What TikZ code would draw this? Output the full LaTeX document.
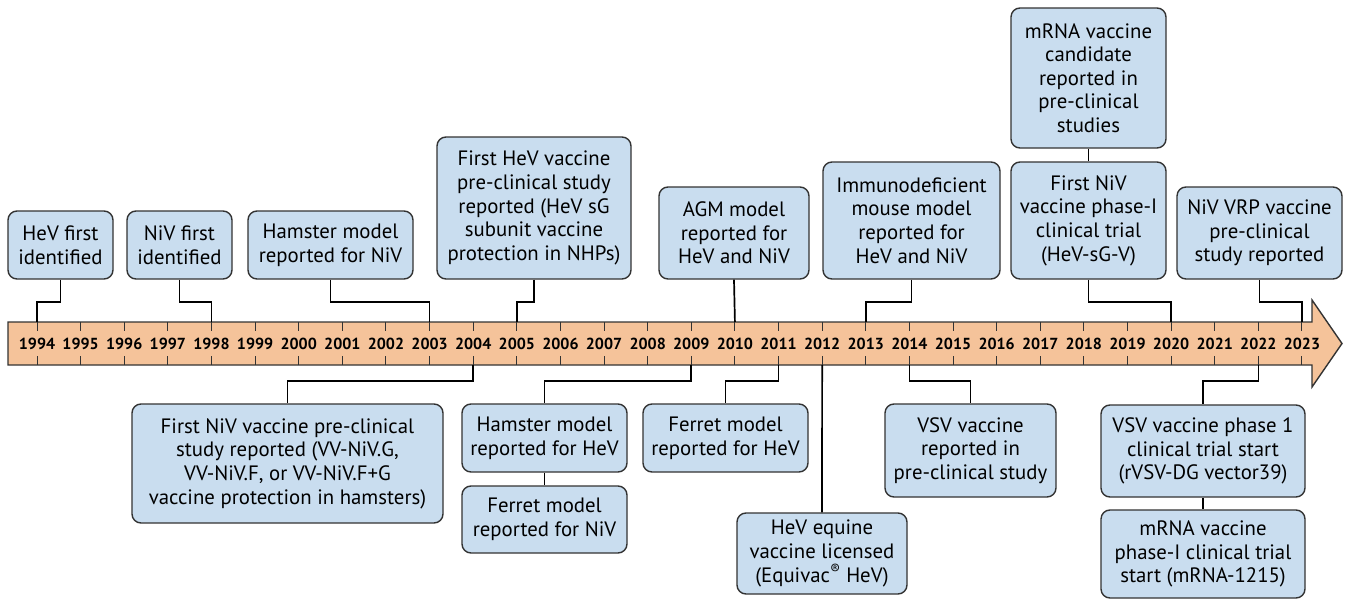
\documentclass[tikz,border=0pt]{standalone}
\usepackage{fontspec}
\setmainfont{PT Sans}
\definecolor{boxfill}{HTML}{C9DDEF}
\definecolor{bandfill}{HTML}{F5C39A}
\definecolor{edge}{HTML}{333333}
\begin{document}
\begin{tikzpicture}[x=1pt,y=-1pt,
  ev/.style={draw=edge,fill=boxfill,line width=1.4pt,rounded corners=9pt,
    align=center,inner sep=0pt,font=\fontsize{20.8}{23.6}\selectfont},
  conn/.style={draw=black,line width=1.7pt},
  yr/.style={font=\bfseries\fontsize{16}{16}\selectfont,inner sep=0pt},
  tick/.style={draw=edge,line width=1pt}]
\useasboundingbox (0,0) rectangle (1350,605);
% band
\filldraw[fill=bandfill,draw=edge,line width=1.4pt,line join=miter]
  (8,322) -- (1312,322) -- (1312,300) -- (1342,343.5) -- (1312,387) -- (1312,365) -- (8,365) -- cycle;
\foreach \y [count=\i from 0] in {1994,...,2023}{
  \pgfmathsetmacro{\xx}{37+\i*43.62}
  \coordinate (t\y) at (\xx,322);
  \coordinate (u\y) at (\xx,365);
  \draw[tick] (\xx,322) -- (\xx,331);
  \draw[tick] (\xx,356) -- (\xx,365);
  \node[yr] (y\y) at (\xx,344) {\y};
}
% top boxes
\node[ev,minimum width=105pt,minimum height=68pt] (b1) at (60.5,245) {HeV first\\identified};
\node[ev,minimum width=105pt,minimum height=68pt] (b2) at (179.5,245) {NiV first\\identified};
\node[ev,minimum width=165pt,minimum height=68pt] (b3) at (330.5,245) {Hamster model\\reported for NiV};
\node[ev,minimum width=194pt,minimum height=142pt] (b4) at (534,208) {First HeV vaccine\\pre-clinical study\\reported (HeV sG\\subunit vaccine\\protection in NHPs)};
\node[ev,minimum width=150pt,minimum height=92pt] (b5) at (734,233) {AGM model\\reported for\\HeV and NiV};
\node[ev,minimum width=177pt,minimum height=117pt] (b6) at (911.5,220.5) {Immunodeficient\\mouse model\\reported for\\HeV and NiV};
\node[ev,minimum width=155pt,minimum height=117pt] (b7) at (1088.5,220.5) {First NiV\\vaccine phase-I\\clinical trial\\(HeV-sG-V)};
\node[ev,minimum width=155pt,minimum height=140pt] (b8) at (1088.5,78) {mRNA vaccine\\candidate\\reported in\\pre-clinical\\studies};
\node[ev,minimum width=165pt,minimum height=92pt] (b9) at (1259.5,233) {NiV VRP vaccine\\pre-clinical\\study reported};
% bottom boxes
\node[ev,minimum width=311pt,minimum height=119pt] (b10) at (287.5,463.5) {First NiV vaccine pre-clinical\\study reported (VV-NiV.G,\\VV-NiV.F, or VV-NiV.F+G\\vaccine protection in hamsters)};
\node[ev,minimum width=165pt,minimum height=68pt] (b11) at (544.5,438) {Hamster model\\reported for HeV};
\node[ev,minimum width=165pt,minimum height=67pt] (b12) at (544.5,519.5) {Ferret model\\reported for NiV};
\node[ev,minimum width=165pt,minimum height=68pt] (b13) at (725.5,438) {Ferret model\\reported for HeV};
\node[ev,minimum width=170pt,minimum height=81pt] (b14) at (822,553.5) {HeV equine\\vaccine licensed\\(Equivac\textsuperscript{®} HeV)};
\node[ev,minimum width=171pt,minimum height=93pt] (b15) at (970.5,450.5) {VSV vaccine\\reported in\\pre-clinical study};
\node[ev,minimum width=204pt,minimum height=92pt] (b16) at (1203,451) {VSV vaccine phase 1\\clinical trial start\\(rVSV-DG vector39)};
\node[ev,minimum width=204pt,minimum height=88pt] (b17) at (1203,554) {mRNA vaccine\\phase-I clinical trial\\start (mRNA-1215)};
% connectors top
\draw[conn] (b1.south) -- (b1.south |- 0,302) -| (t1994);
\draw[conn] (b2.south) -- (b2.south |- 0,302) -| (t1998);
\draw[conn] (b3.south) -- (b3.south |- 0,302) -| (t2003);
\draw[conn] (b4.south) -- (b4.south |- 0,302) -| (t2005);
\draw[conn] (b5.south) -- (t2010);
\draw[conn] (b6.south) -- (b6.south |- 0,302) -| (t2013);
\draw[conn] (b7.south) -- (b7.south |- 0,302) -| (t2020);
\draw[conn] (b8.south) -- (b7.north);
\draw[conn] (b9.south) -- (b9.south |- 0,302) -| (t2023);
% connectors bottom
\draw[conn] (u2004) -- (u2004 |- 0,381) -| (b10.north);
\draw[conn] (u2009) -- (u2009 |- 0,381) -| (b11.north);
\draw[conn] (b11.south) -- (b12.north);
\draw[conn] (u2011) -- (u2011 |- 0,381) -| (b13.north);
\draw[conn] (u2012) -- (b14.north);
\draw[conn] (u2014) -- (u2014 |- 0,381) -| (b15.north);
\draw[conn] (u2022) -- (u2022 |- 0,381) -| (b16.north);
\draw[conn] (b16.south) -- (b17.north);
\end{tikzpicture}
\end{document}
